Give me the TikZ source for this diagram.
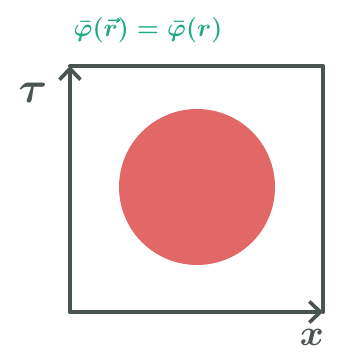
\documentclass[tikz,border=0pt]{standalone}
\usepackage{amsmath}
\usepackage{tikz}
\usetikzlibrary{arrows.meta}
\usepackage{xcolor}
\definecolor{frame}{RGB}{74,85,83}
\definecolor{disk}{RGB}{226,104,104}
\definecolor{ink}{RGB}{28,170,132}

\begin{document}
\begin{tikzpicture}[
  axis/.style={line width=2.3pt, draw=frame, line cap=round, line join=round},
  arr/.style={axis, -{Straight Barb[length=2.2mm, width=4.2mm, line width=2.1pt]}},
  lbl/.style={text=frame, inner sep=0pt}
]
  \useasboundingbox (0,0) rectangle (6.72,7.08);
  % box corners
  \coordinate (bl) at (1.40,0.84);
  \coordinate (tl) at (1.40,5.76);
  \coordinate (tr) at (6.46,5.76);
  \coordinate (br) at (6.46,0.84);

  \fill[disk] (3.94,3.34) circle (1.56);

  \draw[axis] (tl) -- (tr) -- (br);
  \draw[arr] (bl) -- (tl);
  \draw[arr] (bl) -- (br);

  \node[lbl, font=\Huge\boldmath] (tau) at (0.66,5.22) {$\tau$};
  \node[lbl, font=\huge\boldmath] (xlab) at (6.24,0.34) {$x$};
  \node[text=ink, font=\Large\boldmath, inner sep=0pt] (eq) at (2.96,6.48) {$\bar{\varphi}(\vec{r}) = \bar{\varphi}(r)$};
\end{tikzpicture}
\end{document}
